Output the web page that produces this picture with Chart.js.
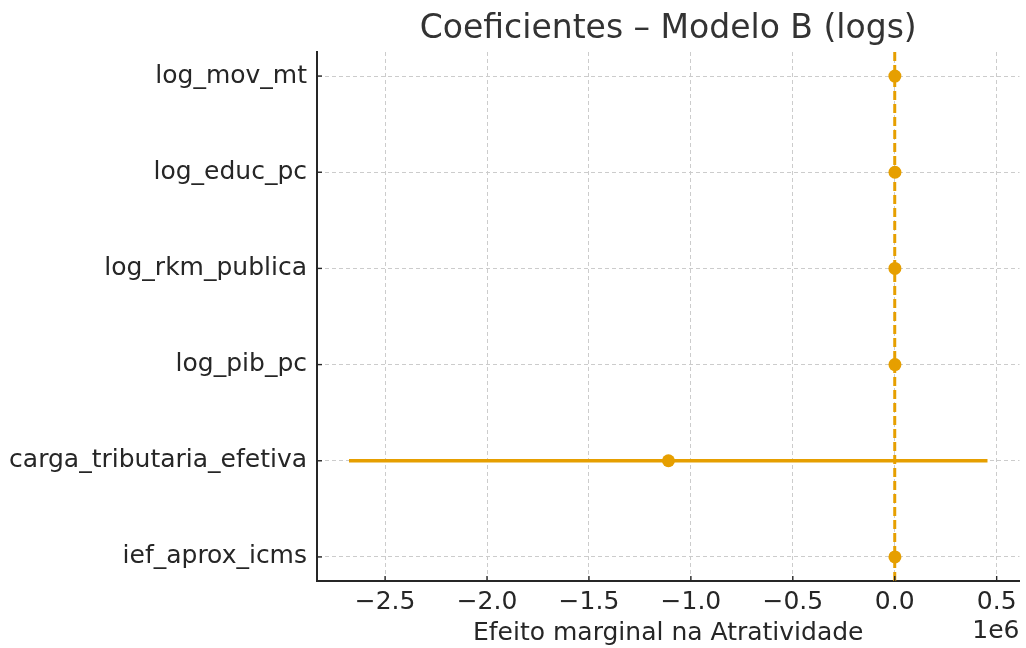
<!DOCTYPE html>
<html>
<head>
<meta charset="utf-8">
<script src="https://cdn.jsdelivr.net/npm/chart.js@4.4.1/dist/chart.umd.min.js"></script>
<style>
  body { margin: 0; background: #fff; }
</style>
</head>
<body>
<canvas id="myChart" width="1026" height="648"></canvas>
<script>
// dados (de baixo para cima no eixo y)
const variaveis = ["ief_aprox_icms", "carga_tributaria_efetiva", "log_pib_pc", "log_rkm_publica", "log_educ_pc", "log_mov_mt"];
const coeficientes = [900, -1110000, 1000, 800, 1100, 700];
const icInferior = [-1500, -2677000, -1200, -1400, -1300, -1500];
const icSuperior = [3300, 455000, 3200, 3000, 3500, 2900];
const xTicks = [-2500000, -2000000, -1500000, -1000000, -500000, 0, 500000];

const ctx = document.getElementById("myChart").getContext("2d");
const laranja = "#e69f00";
const corTexto = "#262626";
const fonte = "DejaVu Sans";

const linhasIC = variaveis.map((v, i) => ({
  data: [{ x: icInferior[i], y: i }, { x: icSuperior[i], y: i }],
  showLine: true,
  borderColor: laranja,
  borderWidth: 3.5,
  pointRadius: 0,
}));

const linhaZero = {
  data: [{ x: 0, y: -0.25 }, { x: 0, y: variaveis.length - 0.75 }],
  showLine: true,
  borderColor: laranja,
  borderWidth: 3,
  borderDash: [9, 4],
  pointRadius: 0,
};

const pontos = {
  data: coeficientes.map((c, i) => ({ x: c, y: i })),
  pointRadius: 6.5,
  pointBackgroundColor: laranja,
  pointBorderWidth: 0,
};

// titulo, "1e6" e tracinhos para dentro
const extras = {
  id: "extras",
  afterDraw(chart) {
    const c = chart.ctx;
    const area = chart.chartArea;
    c.save();
    c.fillStyle = "#333333";
    c.font = `33px '${fonte}'`;
    c.textAlign = "center";
    c.textBaseline = "middle";
    c.fillText("Coeficientes – Modelo B (logs)", (area.left + area.right) / 2, 29);

    c.fillStyle = corTexto;
    c.font = `25px '${fonte}'`;
    c.textAlign = "right";
    c.fillText("1e6", area.right, 631);

    c.strokeStyle = corTexto;
    c.lineWidth = 1.4;
    chart.scales.x.ticks.forEach((t) => {
      const px = chart.scales.x.getPixelForValue(t.value);
      c.beginPath();
      c.moveTo(px, area.bottom);
      c.lineTo(px, area.bottom - 5);
      c.stroke();
    });
    chart.scales.y.ticks.forEach((t) => {
      const py = chart.scales.y.getPixelForValue(t.value);
      c.beginPath();
      c.moveTo(area.left, py);
      c.lineTo(area.left + 5, py);
      c.stroke();
    });
    c.restore();
  },
};

new Chart(ctx, {
  type: "scatter",
  data: { datasets: [...linhasIC, pontos, linhaZero] },
  options: {
    responsive: false,
    animation: false,
    layout: { padding: { top: 52, right: 4, left: 0, bottom: 0 } },
    plugins: {
      legend: { display: false },
      tooltip: { enabled: false },
    },
    scales: {
      x: {
        type: "linear",
        min: -2834000,
        max: 612000,
        afterBuildTicks: (scale) => {
          scale.ticks = xTicks.map((v) => ({ value: v }));
        },
        afterFit: (scale) => {
          scale.height = 67;
        },
        ticks: {
          font: { family: fonte, size: 25 },
          color: corTexto,
          padding: 6,
          maxRotation: 0,
          callback: (v) => (v / 1e6).toFixed(1).replace("-", "\u2212"),
        },
        grid: { color: "#cccccc", lineWidth: 1, drawTicks: false },
        border: { display: true, color: corTexto, width: 2, dash: [4, 3] },
        title: {
          display: true,
          text: "Efeito marginal na Atratividade",
          font: { family: fonte, size: 25 },
          color: corTexto,
          padding: { top: 0, bottom: 0 },
        },
      },
      y: {
        type: "linear",
        min: -0.25,
        max: variaveis.length - 0.75,
        afterBuildTicks: (scale) => {
          scale.ticks = variaveis.map((v, i) => ({ value: i }));
        },
        afterFit: (scale) => {
          scale.width = 317;
        },
        ticks: {
          font: { family: fonte, size: 25 },
          color: corTexto,
          padding: 10,
          callback: (v) => variaveis[v],
        },
        grid: { color: "#cccccc", lineWidth: 1, drawTicks: false },
        border: { display: true, color: corTexto, width: 2, dash: [4, 3] },
      },
    },
  },
  plugins: [extras],
});
</script>
</body>
</html>
